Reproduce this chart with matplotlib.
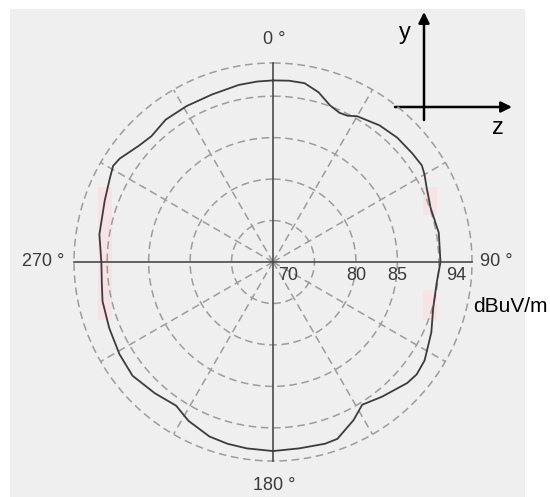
import numpy as np
import matplotlib
matplotlib.use("Agg")
import matplotlib.pyplot as plt
from matplotlib.patches import Rectangle

# ---- datos (angulo en grados, nivel en dBuV/m) ----
angulos = [0, 5, 10, 15, 20, 24, 27, 30, 38, 45, 52, 57, 60, 64, 71, 80, 90,
           97, 106, 114, 123, 128, 132, 141, 148, 153, 160, 164, 172, 180,
           188, 194, 200, 208, 214, 222, 231, 239, 248, 257, 263, 270,
           279, 290, 297, 301, 304, 311, 316, 323, 331, 340, 349, 355]
niveles = [91.9, 91.95, 91.9, 91.2, 90.1, 89.7, 89.8, 90.3, 90.9, 91.2, 91.3, 91.4, 91.1, 90.6, 90.1, 90.3, 90.2,
           89.9, 90.1, 90.9, 91.8, 92.0, 91.8, 90.9, 90.3, 91.4, 92.7, 92.8, 92.7, 92.8,
           92.7, 92.6, 92.4, 91.7, 90.9, 91.3, 91.8, 91.6, 91.3, 91.1, 90.8, 90.7,
           91.2, 91.6, 92.1, 92.5, 92.3, 91.4, 91.1, 91.5, 91.5, 91.5, 91.75, 91.85]

anillos = [75, 80, 85, 90, 94]
radios_etiq = ["70", "80", "85", "94"]
r_min, r_max = 70, 94
rayos = [30, 60, 120, 150, 210, 240, 300, 330]
ejes = [0, 90, 180, 270]
etiq_angulos = ["0 °", "90 °", "180 °", "270 °"]

W, H = 550, 497
fig = plt.figure(figsize=(W / 100, H / 100), dpi=100)
fig.patch.set_facecolor("white")

# capa de fondo en pixeles
bg = fig.add_axes([0, 0, 1, 1], zorder=0)
bg.set_xlim(0, W)
bg.set_ylim(H, 0)
bg.axis("off")
bg.add_patch(Rectangle((10, 9), 515, H - 9, color="#efefef", lw=0))
# zonas rosadas tenues
for (x0, y0, w, h) in [(98, 187, 14, 133), (423, 187, 14, 28), (423, 290, 14, 30)]:
    bg.add_patch(Rectangle((x0, y0), w, h, color="#f7e2e8", lw=0))

# ---- grafico polar ----
cx, cy, R = 273, 262, 199
ax = fig.add_axes([(cx - R) / W, (H - cy - R) / H, 2 * R / W, 2 * R / H],
                  projection="polar", zorder=1)
ax.set_facecolor("none")
ax.set_theta_zero_location("N")
ax.set_theta_direction(-1)
ax.set_ylim(r_min, r_max)
ax.grid(False)
ax.spines["polar"].set_visible(False)
ax.set_xticks([])
ax.set_yticks([])

t = np.linspace(0, 2 * np.pi, 361)
for a in anillos:
    ax.plot(t, np.full_like(t, a), ls=(0, (5, 3)), color="#9c9c9c", lw=1.1, clip_on=False)
for a in rayos:
    ax.plot([np.radians(a)] * 2, [r_min, r_max], ls=(0, (5, 3)), color="#9c9c9c", lw=1.1)
for a in ejes:
    ax.plot([np.radians(a)] * 2, [r_min, r_max], color="#4a4a4a", lw=1.2, clip_on=False)

th = np.radians(angulos + [angulos[0]])
rv = niveles + [niveles[0]]
ax.plot(th, rv, color="#3c3c3c", lw=1.3)

# etiquetas radiales
for lab in radios_etiq:
    v = float(lab)
    if lab == "70":
        ax.annotate(lab, (np.radians(90), v), xytext=(4, -10), textcoords="offset points",
                    ha="left", va="center", fontsize=13, color="#3a3a3a", family="Liberation Sans")
    elif lab == "94":
        ax.annotate(lab, (np.radians(90), v), xytext=(-4, -10), textcoords="offset points",
                    ha="right", va="center", fontsize=13, color="#3a3a3a", family="Liberation Sans")
    else:
        ax.annotate(lab, (np.radians(90), v), xytext=(0, -10), textcoords="offset points",
                    ha="center", va="center", fontsize=13, color="#3a3a3a", family="Liberation Sans")

# etiquetas de angulo
kw = dict(fontsize=13, color="#3a3a3a", family="Liberation Sans")
bg.text(274, 40, etiq_angulos[0], ha="center", va="center", **kw)
bg.text(480, 262, etiq_angulos[1], ha="left", va="center", **kw)
bg.text(274, 485, etiq_angulos[2], ha="center", va="center", **kw)
bg.text(64, 262, etiq_angulos[3], ha="right", va="center", **kw)

bg.text(473, 306, "dBuV/m", ha="left", va="center", fontsize=15, color="black",
        family="Liberation Sans")

# ejes y-z
ap = dict(arrowstyle="-|>", color="black", lw=1.8, mutation_scale=16, shrinkA=0, shrinkB=0)
bg.annotate("", xy=(424, 12), xytext=(424, 120), arrowprops=ap)
bg.annotate("", xy=(512, 107), xytext=(395, 107), arrowprops=ap)
bg.text(405, 33, "y", ha="center", va="center", fontsize=17, family="Liberation Sans")
bg.text(498, 128, "z", ha="center", va="center", fontsize=17, family="Liberation Sans")

fig.savefig("out.png", dpi=100)
